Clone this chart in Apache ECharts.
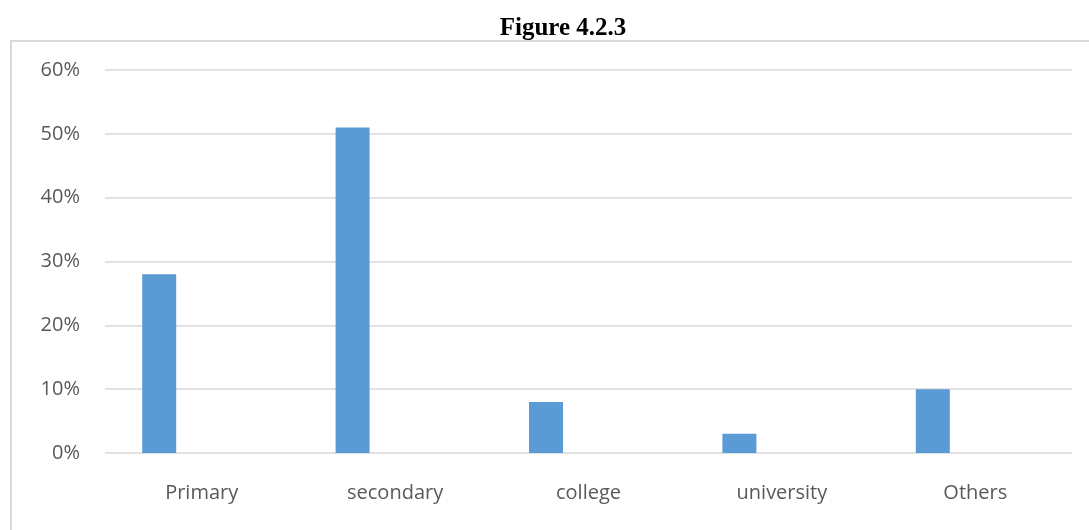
<!DOCTYPE html>
<html><head><meta charset="utf-8">
<script src="https://cdn.jsdelivr.net/npm/echarts@6/dist/echarts.min.js"></script>
<style>html,body{margin:0;padding:0;background:#fff;}#c{width:1089px;height:530px;}</style>
</head><body><div id="c"></div>
<script>
const categories = ['Primary', 'secondary', 'college', 'university', 'Others'];
const values = [0.28, 0.51, 0.08, 0.03, 0.10];
const emptySeries = [null, null, null, null, null];
const yTicks = [0, 0.1, 0.2, 0.3, 0.4, 0.5, 0.6];

const chart = echarts.init(document.getElementById('c'), null, {renderer: 'canvas'});
chart.setOption({
  animation: false,
  backgroundColor: '#fff',
  title: {
    text: 'Figure 4.2.3', left: 558, top: 11, textAlign: 'center',
    textStyle: {fontFamily: 'Liberation Serif', fontWeight: 'bold', fontSize: 25, color: '#000'}
  },
  graphic: [{
    type: 'rect', shape: {x: 11, y: 41, width: 1100, height: 520},
    style: {fill: 'none', stroke: '#d9d9d9', lineWidth: 2}, z: -1
  }],
  grid: {left: 105, right: 17, top: 70, bottom: 77, containLabel: false},
  xAxis: {
    type: 'category', data: categories,
    axisLine: {show: false}, axisTick: {show: false},
    axisLabel: {fontFamily: 'Open Sans', fontSize: 20, color: '#595959', margin: 30}
  },
  yAxis: {
    type: 'value', min: 0, max: yTicks[yTicks.length - 1], interval: 0.1,
    axisLine: {show: false}, axisTick: {show: false},
    splitLine: {lineStyle: {color: '#d9d9d9', width: 1.5}},
    axisLabel: {
      fontFamily: 'Open Sans', fontSize: 20, color: '#595959', margin: 25,
      formatter: v => Math.round(v * 100) + '%'
    }
  },
  series: [
    {type: 'bar', data: values, barWidth: 34, barGap: '150%', itemStyle: {color: '#5b9bd5'}},
    {type: 'bar', data: emptySeries, barWidth: 34, itemStyle: {color: '#ed7d31'}}
  ]
});
</script></body></html>
